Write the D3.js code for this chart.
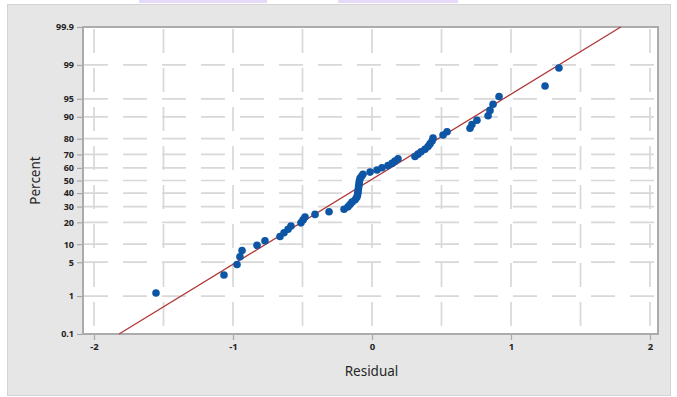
<!DOCTYPE html>
<html>
<head>
<meta charset="utf-8">
<script src="https://cdn.jsdelivr.net/npm/d3@7"></script>
<style>
  html, body { margin: 0; padding: 0; background: #ffffff; }
  svg { display: block; }
  text { font-family: "Noto Sans", "Open Sans", sans-serif; }
</style>
</head>
<body>
<svg id="chart" width="677" height="397"></svg>
<script>
// Ordered residuals and their plotting positions (percent)
const residuals = [
  -1.554, -1.065, -0.971, -0.950, -0.935, -0.827, -0.770, -0.662, -0.633, -0.604,
  -0.583, -0.511, -0.496, -0.482, -0.410, -0.309, -0.201, -0.173, -0.158, -0.144,
  -0.122, -0.110, -0.105, -0.102, -0.100, -0.098, -0.096, -0.094, -0.092, -0.090,
  -0.086, -0.075, -0.065, -0.014, 0.036, 0.072, 0.115, 0.144, 0.165, 0.187,
  0.309, 0.331, 0.353, 0.381, 0.403, 0.417, 0.432, 0.439, 0.511, 0.540,
  0.705, 0.719, 0.755, 0.835, 0.849, 0.871, 0.914, 1.245, 1.345
];
const percents = [
  1.18, 2.86, 4.55, 6.23, 7.91, 9.60, 11.28, 12.96, 14.65, 16.33,
  18.01, 19.70, 21.38, 23.06, 24.75, 26.43, 28.11, 29.80, 31.48, 33.16,
  34.85, 36.53, 38.22, 39.90, 41.58, 43.27, 44.95, 46.63, 48.32, 50.00,
  51.68, 53.37, 55.05, 56.73, 58.42, 60.10, 61.78, 63.47, 65.15, 66.84,
  68.52, 70.20, 71.89, 73.57, 75.25, 76.94, 78.62, 80.30, 81.99, 83.67,
  85.35, 87.04, 88.72, 90.40, 92.09, 93.77, 95.45, 97.14, 98.82
];

// Normal fit line parameters
const fitMean = -0.015;
const fitStDev = 0.584;

const percentTicks = [0.1, 1, 5, 10, 20, 30, 40, 50, 60, 70, 80, 90, 95, 99, 99.9];
const residualTicks = [-2, -1, 0, 1, 2];
const residualGrid = [-2, -1.5, -1, -0.5, 0, 0.5, 1, 1.5, 2];

// Inverse standard normal CDF (Acklam's rational approximation)
function probit(p) {
  const a = [-3.969683028665376e+01, 2.209460984245205e+02, -2.759285104469687e+02,
             1.383577518672690e+02, -3.066479806614716e+01, 2.506628277459239e+00];
  const b = [-5.447609879822406e+01, 1.615858368580409e+02, -1.556989798598866e+02,
             6.680131188771972e+01, -1.328068155288572e+01];
  const c = [-7.784894002430293e-03, -3.223964580411365e-01, -2.400758277161838e+00,
             -2.549732539343734e+00, 4.374664141464968e+00, 2.938163982698783e+00];
  const d = [7.784695709041462e-03, 3.224671290700398e-01, 2.445134137142996e+00,
             3.754408661907416e+00];
  const pl = 0.02425, ph = 1 - pl;
  let q, r;
  if (p < pl) {
    q = Math.sqrt(-2 * Math.log(p));
    return (((((c[0]*q+c[1])*q+c[2])*q+c[3])*q+c[4])*q+c[5]) /
           ((((d[0]*q+d[1])*q+d[2])*q+d[3])*q+1);
  } else if (p <= ph) {
    q = p - 0.5; r = q * q;
    return (((((a[0]*r+a[1])*r+a[2])*r+a[3])*r+a[4])*r+a[5])*q /
           (((((b[0]*r+b[1])*r+b[2])*r+b[3])*r+b[4])*r+1);
  } else {
    q = Math.sqrt(-2 * Math.log(1 - p));
    return -(((((c[0]*q+c[1])*q+c[2])*q+c[3])*q+c[4])*q+c[5]) /
            ((((d[0]*q+d[1])*q+d[2])*q+d[3])*q+1);
  }
}

const svg = d3.select("#chart");

const frame = { left: 83, right: 658, top: 27, bottom: 334 };

// Outer panel
svg.append("rect")
  .attr("x", 7.5).attr("y", 4.5).attr("width", 663).attr("height", 391)
  .attr("fill", "#e6e6e6").attr("stroke", "#d4d4d4").attr("stroke-width", 1);

// Highlighted title strip clipped by the top edge
svg.append("rect").attr("x", 139).attr("y", 0).attr("width", 128).attr("height", 3).attr("fill", "#e6d9f7");
svg.append("rect").attr("x", 338).attr("y", 0).attr("width", 120).attr("height", 3).attr("fill", "#e6d9f7");

// Scales
const x = d3.scaleLinear().domain([-2, 2]).range([94, 650]);
const zTop = probit(0.999);
const zScale = d3.scaleLinear().domain([-zTop, zTop]).range([frame.bottom, frame.top]);
const y = p => zScale(probit(p / 100));

// Plot background
svg.append("rect")
  .attr("x", frame.left).attr("y", frame.top)
  .attr("width", frame.right - frame.left).attr("height", frame.bottom - frame.top)
  .attr("fill", "#ffffff");

// Dashed gridlines
const grid = svg.append("g").attr("stroke", "#d8d8d8").attr("stroke-width", 1.7)
  .attr("stroke-dasharray", "24,15").attr("fill", "none");
grid.selectAll("line.h").data(percentTicks.filter(p => p > 0.1 && p < 99.9)).join("line")
  .attr("class", "h")
  .attr("x1", frame.left + 1).attr("x2", frame.right - 1)
  .attr("y1", d => y(d)).attr("y2", d => y(d));
grid.selectAll("line.v").data(residualGrid).join("line")
  .attr("class", "v")
  .attr("x1", d => x(d)).attr("x2", d => x(d))
  .attr("y1", frame.top + 2).attr("y2", frame.bottom - 1);

// Axes
const yAxis = d3.axisLeft(zScale)
  .tickValues(percentTicks.map(p => probit(p / 100)))
  .tickFormat((d, i) => String(percentTicks[i]))
  .tickSize(5).tickPadding(3);
const gy = svg.append("g").attr("transform", `translate(${frame.left - 1},0)`).call(yAxis);
gy.select(".domain").remove();
gy.selectAll(".tick line").attr("stroke", "#a8a8a8").attr("stroke-width", 1.2);
gy.selectAll(".tick text").attr("fill", "#222").attr("font-size", 9)
  .attr("font-weight", "bold").attr("font-family", "'Noto Sans', sans-serif");

const xAxis = d3.axisBottom(x).tickValues(residualTicks).tickFormat(d3.format("d"))
  .tickSize(5).tickPadding(3);
const gx = svg.append("g").attr("transform", `translate(0,${frame.bottom + 1})`).call(xAxis);
gx.select(".domain").remove();
gx.selectAll(".tick line").attr("stroke", "#a8a8a8").attr("stroke-width", 1.2);
gx.selectAll(".tick text").attr("fill", "#222").attr("font-size", 9.5)
  .attr("font-weight", "bold").attr("font-family", "'Noto Sans', sans-serif")
  .text(d => d < 0 ? "-" + Math.abs(d) : String(d));

// Frame
svg.append("rect")
  .attr("x", frame.left).attr("y", frame.top)
  .attr("width", frame.right - frame.left).attr("height", frame.bottom - frame.top)
  .attr("fill", "none").attr("stroke", "#ababab").attr("stroke-width", 2);

// Fitted normal line, from 0.1% to 99.9%
const fitLine = [0.1, 99.9].map(p => ({ r: fitMean + fitStDev * probit(p / 100), p }));
svg.append("path")
  .datum(fitLine)
  .attr("d", d3.line().x(d => x(d.r)).y(d => y(d.p)))
  .attr("stroke", "#b03535").attr("stroke-width", 1.3).attr("fill", "none");

// Data points
svg.append("g").selectAll("circle").data(residuals).join("circle")
  .attr("cx", d => x(d))
  .attr("cy", (d, i) => y(percents[i]))
  .attr("r", 3.8)
  .attr("fill", "#0d56a6");

// Axis titles
svg.append("text")
  .attr("x", (frame.left + frame.right) / 2 + 1).attr("y", 376)
  .attr("text-anchor", "middle").attr("font-size", 13.5).attr("fill", "#262626")
  .text("Residual");
svg.append("text")
  .attr("transform", `translate(40,${(frame.top + frame.bottom) / 2}) rotate(-90)`)
  .attr("text-anchor", "middle").attr("font-size", 13.5).attr("fill", "#262626")
  .text("Percent");
</script>
</body>
</html>
